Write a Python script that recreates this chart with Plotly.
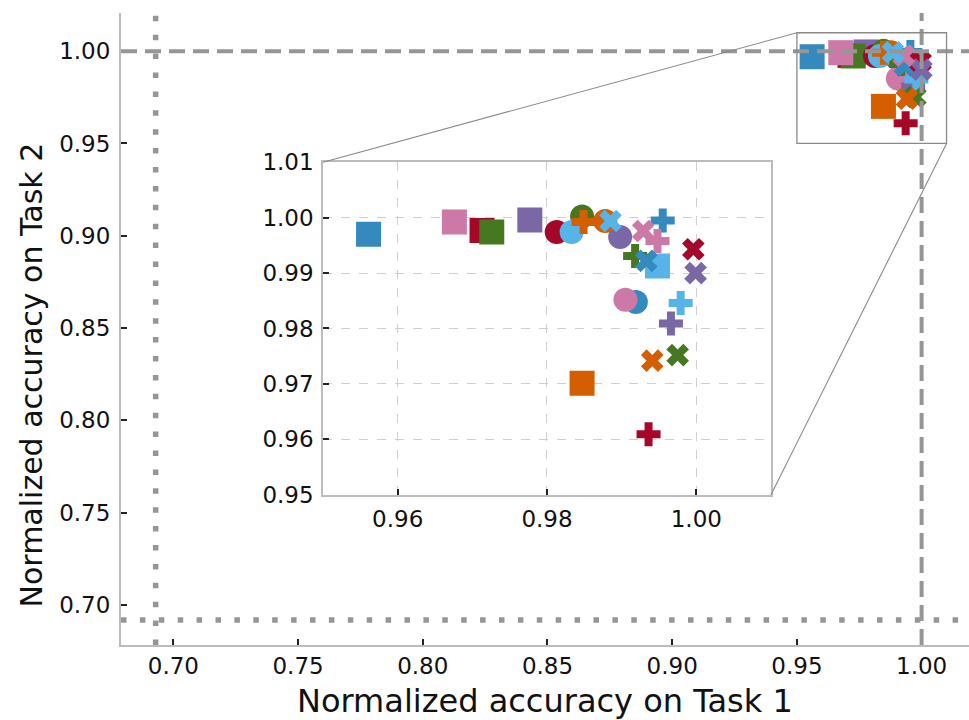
import plotly.graph_objects as go

# ---------------- data ----------------
color_names = ["blue", "red", "purple", "green", "orange", "pink", "lightblue"]
colors = ["#348ABD", "#A60628", "#7A68A6", "#467821", "#D55E00", "#CC79A7", "#56B4E9"]

square_x = [0.9561, 0.9713, 0.9777, 0.9726, 0.9847, 0.9676, 0.9948]
square_y = [0.9970, 0.9977, 0.9996, 0.9974, 0.9701, 0.9992, 0.9913]

circle_x = [0.9919, 0.9813, 0.9898, 0.9847, 0.9878, 0.9905, 0.9833]
circle_y = [0.9848, 0.9974, 0.9965, 1.0002, 0.9994, 0.9852, 0.9974]

plus_x = [0.9955, 0.9936, 0.9966, 0.9918, 0.9849, 0.9948, 0.9979]
plus_y = [0.9995, 0.9609, 0.9809, 0.9931, 0.9992, 0.9958, 0.9846]

xmark_x = [0.9933, 0.9996, 0.9999, 0.9975, 0.9941, 0.9929, 0.9885]
xmark_y = [0.9922, 0.9943, 0.9900, 0.9752, 0.9742, 0.9976, 0.9994]

chance_task1 = 0.6929
chance_task2 = 0.6917

main_ticks = [0.70, 0.75, 0.80, 0.85, 0.90, 0.95, 1.00]
inset_xticks = [0.96, 0.98, 1.00]
inset_yticks = [0.95, 0.96, 0.97, 0.98, 0.99, 1.00, 1.01]

# ---------------- layout params ----------------
main_xr = [0.679, 1.019]
main_yr = [0.6782, 1.0207]
inset_r = [0.95, 1.01]
inset_dx = [0.2382, 0.7665]
inset_dy = [0.2378, 0.7638]

FONT = "DejaVu Sans"
TICK_SIZE = 23
marker_specs = [
    ("square", square_x, square_y, 25),
    ("circle", circle_x, circle_y, 24),
    ("cross", plus_x, plus_y, 20),
    ("x", xmark_x, xmark_y, 20),
]

fig = go.Figure()
for xa, ya in (("x", "y"), ("x2", "y2")):
    for sym, xs, ys, sz in marker_specs:
        fig.add_trace(go.Scatter(
            x=xs, y=ys, mode="markers", xaxis=xa, yaxis=ya,
            marker=dict(symbol=sym, size=sz, color=colors, line=dict(width=0)),
            showlegend=False, hoverinfo="skip", cliponaxis=False if xa == "x" else True,
        ))

def to_main_x(f):
    return main_xr[0] + f * (main_xr[1] - main_xr[0])

def to_main_y(f):
    return main_yr[0] + f * (main_yr[1] - main_yr[0])

shapes = []
# reference lines
shapes.append(dict(type="line", xref="x", yref="y domain", x0=1.0, x1=1.0, y0=0, y1=1,
                   line=dict(color="#969696", width=4, dash="16px,8px")))
shapes.append(dict(type="line", xref="x domain", yref="y", x0=0, x1=1, y0=1.0, y1=1.0,
                   line=dict(color="#969696", width=4, dash="16px,8px")))
shapes.append(dict(type="line", xref="x", yref="y domain", x0=chance_task1, x1=chance_task1, y0=0, y1=1,
                   line=dict(color="#969696", width=5.5, dash="5.5px,13.4px")))
shapes.append(dict(type="line", xref="x domain", yref="y", x0=0, x1=1, y0=chance_task2, y1=chance_task2,
                   line=dict(color="#969696", width=5.5, dash="5.5px,13.4px")))
# zoom rectangle
shapes.append(dict(type="rect", xref="x", yref="y", x0=inset_r[0], x1=inset_r[1], y0=inset_r[0], y1=inset_r[1],
                   line=dict(color="#8a8a8a", width=1.3)))
# connectors
shapes.append(dict(type="line", xref="x", yref="y",
                   x0=to_main_x(inset_dx[0]), y0=to_main_y(inset_dy[1]), x1=inset_r[0], y1=inset_r[1],
                   line=dict(color="#8a8a8a", width=1.1)))
shapes.append(dict(type="line", xref="x", yref="y",
                   x0=to_main_x(inset_dx[1]), y0=to_main_y(inset_dy[0]), x1=inset_r[1], y1=inset_r[0],
                   line=dict(color="#8a8a8a", width=1.1)))

axis_common = dict(ticks="inside", ticklen=6, tickwidth=1.5, tickcolor="#222",
                   showline=True, linecolor="#bcbcbc", linewidth=2, zeroline=False,
                   tickfont=dict(family=FONT, size=TICK_SIZE, color="#111"))

fig.update_layout(
    width=969, height=720,
    margin=dict(l=121, r=0, t=10, b=75),
    paper_bgcolor="white", plot_bgcolor="white",
    font=dict(family=FONT, color="#111"),
    shapes=shapes,
    annotations=[dict(text="Normalized accuracy on Task 2", textangle=-90,
                      xref="paper", yref="paper", x=-0.105, y=0.428,
                      xanchor="center", yanchor="middle", showarrow=False,
                      font=dict(family=FONT, size=30, color="#111")),
                 dict(text="Normalized accuracy on Task 1",
                      xref="paper", yref="paper", x=0.5, y=-0.0885,
                      xanchor="center", yanchor="middle", showarrow=False,
                      font=dict(family=FONT, size=32, color="#111"))],
    xaxis=dict(range=main_xr, tickvals=main_ticks, ticktext=[f"{v:.2f}" for v in main_ticks],
               showgrid=False, ticklabelstandoff=-1,
               **axis_common),
    yaxis=dict(range=main_yr, tickvals=main_ticks, ticktext=[f"{v:.2f}" for v in main_ticks],
               showgrid=False, ticklabelstandoff=4,
               **axis_common),
    xaxis2=dict(domain=inset_dx, anchor="y2", range=inset_r, tickvals=inset_xticks,
                ticktext=[f"{v:.2f}" for v in inset_xticks], mirror=True,
                showgrid=True, gridcolor="#cfcfcf", griddash="dash", gridwidth=1, ticklabelstandoff=3,
                **{**axis_common, "linewidth": 1.5}),
    yaxis2=dict(domain=inset_dy, anchor="x2", range=inset_r, tickvals=inset_yticks,
                ticktext=[f"{v:.2f}" for v in inset_yticks], mirror=True,
                showgrid=True, gridcolor="#cfcfcf", griddash="dash", gridwidth=1, ticklabelstandoff=3,
                **{**axis_common, "linewidth": 1.5}),
)

fig.write_html("out.html")
